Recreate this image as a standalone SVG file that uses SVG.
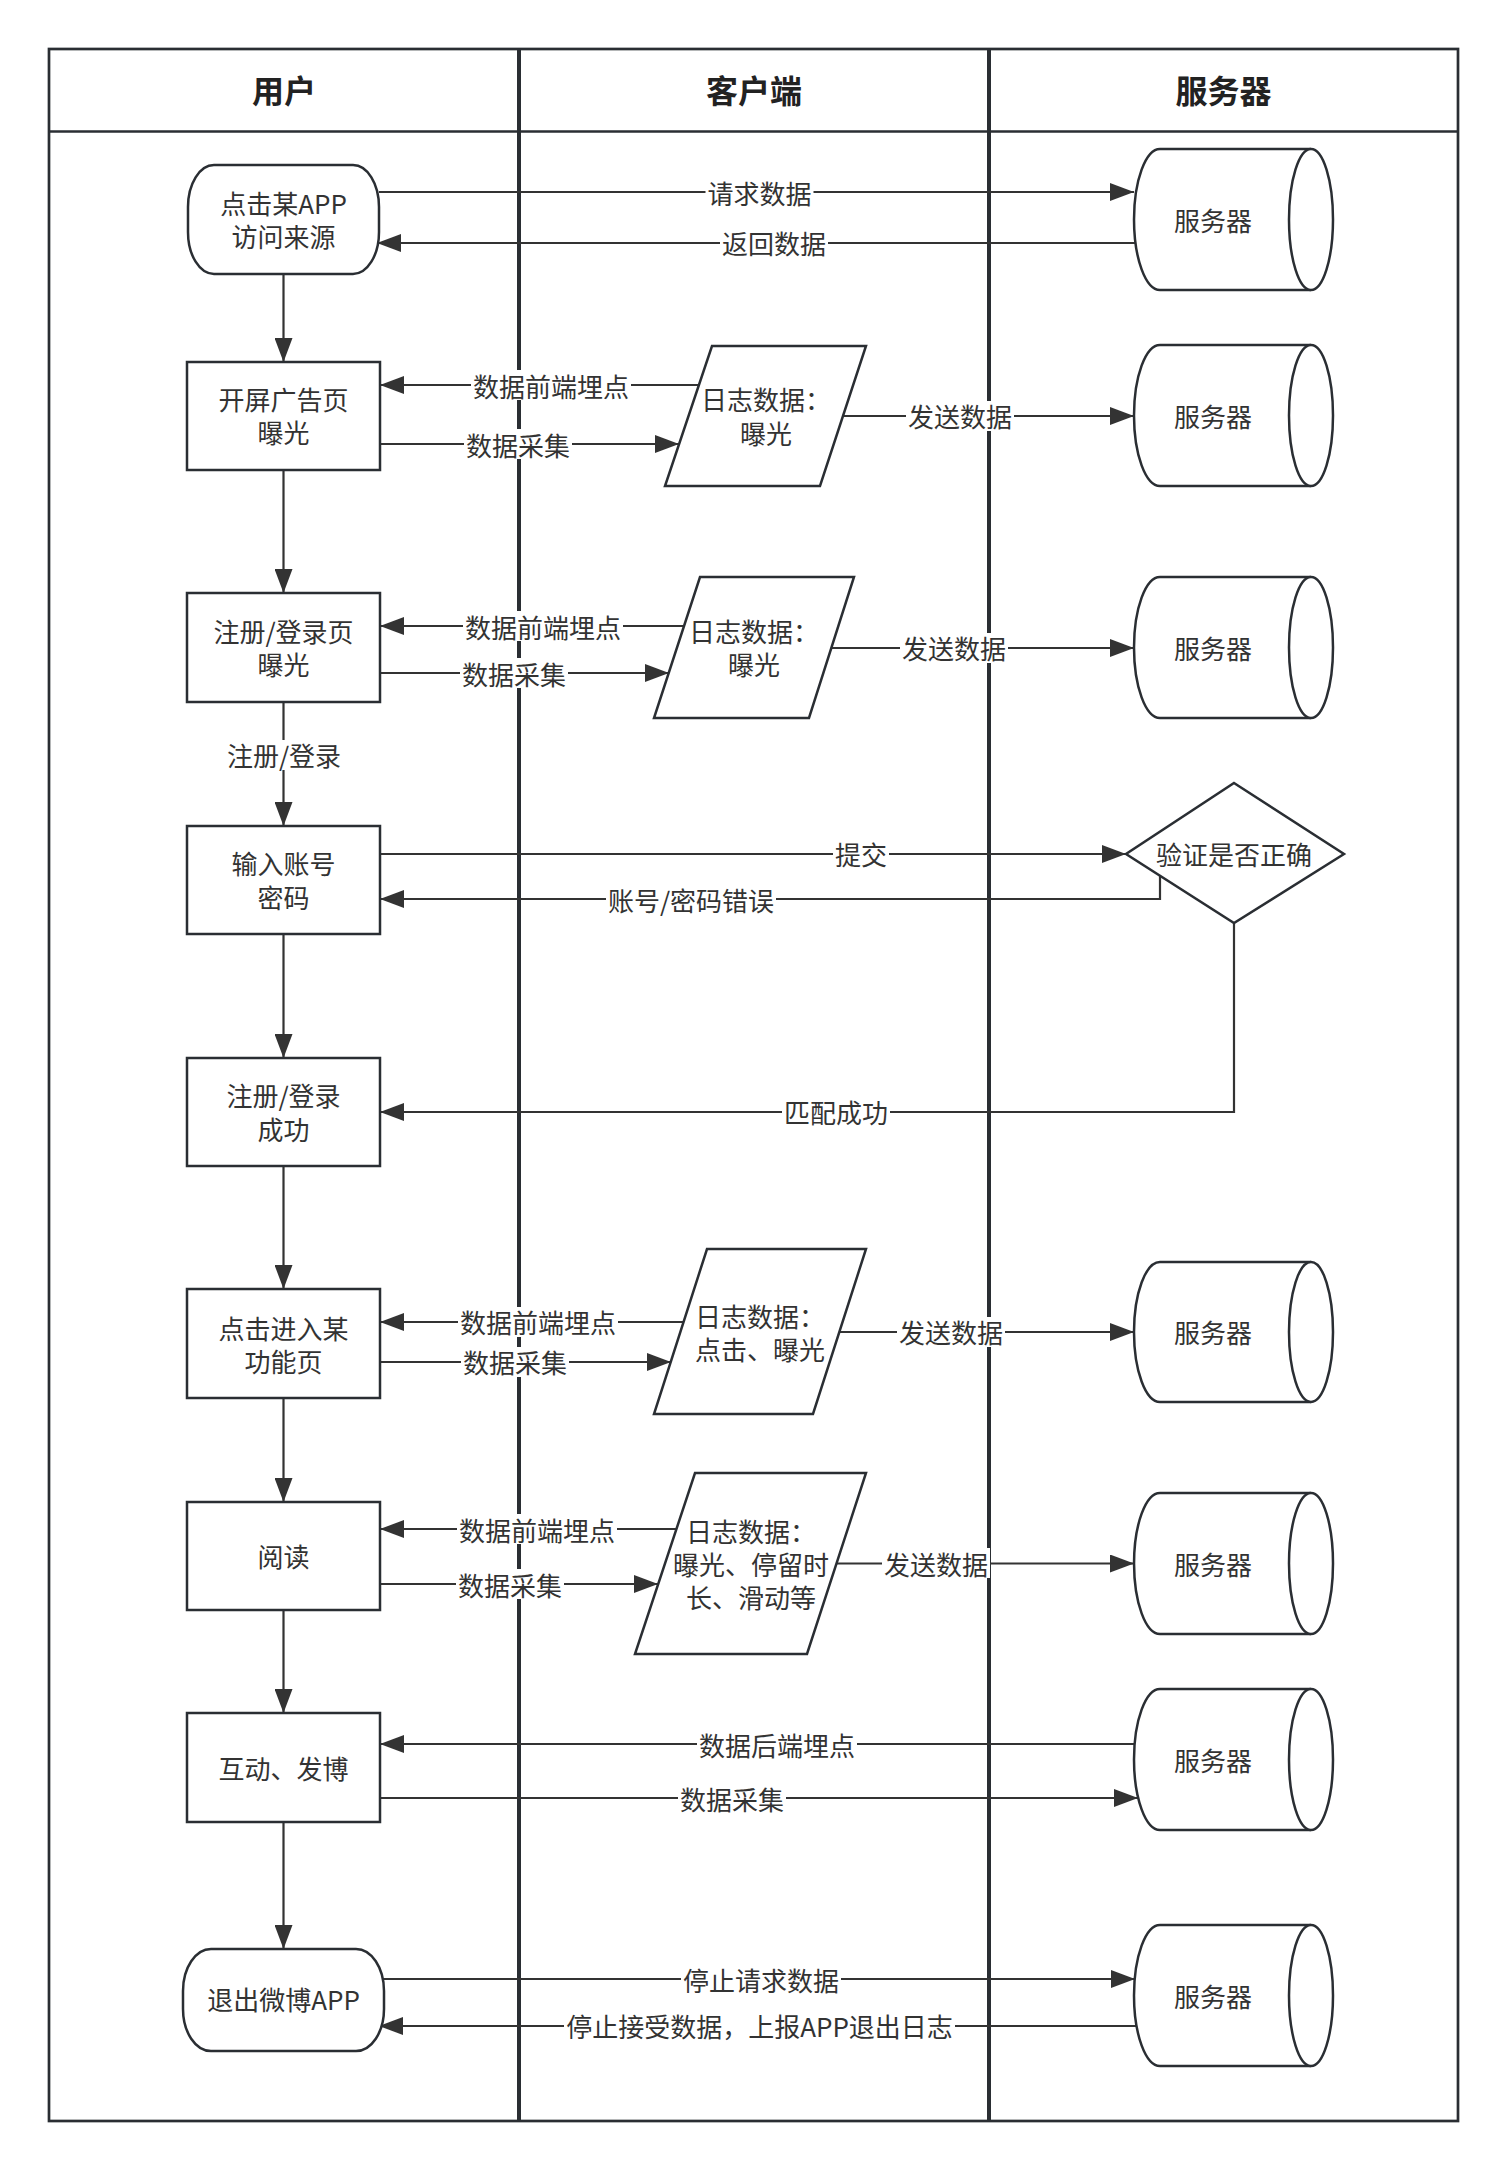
<svg xmlns="http://www.w3.org/2000/svg" width="1508" height="2172" viewBox="0 0 1508 2172">
<defs>
<style>
.n{fill:#fff;stroke:#2a2e33;stroke-width:2.5}
.t{font-family:"Noto Sans CJK SC","Noto Sans",sans-serif;font-size:26px;fill:#333;text-anchor:middle;dominant-baseline:central;transform:translate(0px,-3px)}
.h{font-size:32px;font-weight:700;fill:#222}
.e{fill:none;stroke:#333;stroke-width:2.2}
.a{marker-end:url(#arr)}
.lb{fill:#fff}
.fr{fill:none;stroke:#2a2e33;stroke-width:2.7}
.ln{stroke:#2a2e33;stroke-width:4}
</style>
<marker id="arr" markerUnits="userSpaceOnUse" viewBox="0 0 24 18" markerWidth="24" markerHeight="18" refX="24" refY="9" orient="auto">
<path d="M0,0 L24,9 L0,18 Z" fill="#333"/>
</marker>
</defs>
<rect width="1508" height="2172" fill="#fff"/>

<g id="swimlanes">
<rect class="fr" x="49" y="49" width="1409" height="2072"/>
<line class="fr" x1="49" y1="131.5" x2="1458" y2="131.5"/>
<line class="ln" x1="519" y1="49" x2="519" y2="2121"/>
<line class="ln" x1="989" y1="49" x2="989" y2="2121"/>
<text class="t h" x="284" y="92">用户</text>
<text class="t h" x="754" y="92">客户端</text>
<text class="t h" x="1223.5" y="92">服务器</text>
</g>

<g id="connectors">
<path class="e a" d="M283.5,274 V362"/>
<path class="e a" d="M283.5,470 V593"/>
<path class="e a" d="M283.5,702 V826"/>
<rect class="lb" x="225" y="740" width="118" height="30"/>
<text class="t" x="284" y="757">注册/登录</text>
<path class="e a" d="M283.5,934 V1058"/>
<path class="e a" d="M283.5,1166 V1289"/>
<path class="e a" d="M283.5,1398 V1502"/>
<path class="e a" d="M283.5,1610 V1713"/>
<path class="e a" d="M283.5,1822 V1949"/>

<path class="e a" d="M379,192 H1134"/>
<rect class="lb" x="705.5" y="177" width="108" height="30"/>
<text class="t" x="759.5" y="195">请求数据</text>
<path class="e a" d="M1136,243 H377"/>
<rect class="lb" x="720" y="228" width="108" height="30"/>
<text class="t" x="774" y="245.5">返回数据</text>

<path class="e a" d="M699,385 H380"/>
<rect class="lb" x="471" y="370" width="160" height="30"/>
<text class="t" x="551" y="388">数据前端埋点</text>
<path class="e a" d="M380,444 H679"/>
<rect class="lb" x="464" y="429" width="108" height="30"/>
<text class="t" x="518" y="447">数据采集</text>
<path class="e a" d="M843,416 H1134"/>
<rect class="lb" x="906" y="401" width="108" height="30"/>
<text class="t" x="960" y="418.5">发送数据</text>

<path class="e a" d="M684,626 H380"/>
<rect class="lb" x="463" y="611" width="160" height="30"/>
<text class="t" x="543" y="629">数据前端埋点</text>
<path class="e a" d="M380,673 H669"/>
<rect class="lb" x="460" y="658" width="108" height="30"/>
<text class="t" x="514" y="676">数据采集</text>
<path class="e a" d="M831,648 H1134"/>
<rect class="lb" x="900" y="633" width="108" height="30"/>
<text class="t" x="954" y="650.5">发送数据</text>

<path class="e a" d="M380,854 H1126"/>
<rect class="lb" x="833" y="839" width="56" height="30"/>
<text class="t" x="861" y="856.5">提交</text>
<path class="e a" d="M1160,876 V899 H380"/>
<rect class="lb" x="606" y="884" width="170" height="30"/>
<text class="t" x="691" y="902">账号/密码错误</text>
<path class="e a" d="M1234,923 V1112 H380"/>
<rect class="lb" x="782" y="1097" width="108" height="30"/>
<text class="t" x="836" y="1114.5">匹配成功</text>

<path class="e a" d="M684,1322 H380"/>
<rect class="lb" x="458" y="1307" width="160" height="30"/>
<text class="t" x="538" y="1324.5">数据前端埋点</text>
<path class="e a" d="M380,1362 H671"/>
<rect class="lb" x="461" y="1347" width="108" height="30"/>
<text class="t" x="515" y="1364.5">数据采集</text>
<path class="e a" d="M839,1332 H1134"/>
<rect class="lb" x="897" y="1317" width="108" height="30"/>
<text class="t" x="951" y="1334.5">发送数据</text>

<path class="e a" d="M676,1529 H380"/>
<rect class="lb" x="457" y="1514" width="160" height="30"/>
<text class="t" x="537" y="1532">数据前端埋点</text>
<path class="e a" d="M380,1584 H658"/>
<rect class="lb" x="456" y="1569" width="108" height="30"/>
<text class="t" x="510" y="1587">数据采集</text>
<path class="e a" d="M836,1563.5 H1134"/>
<rect class="lb" x="882" y="1548" width="108" height="30"/>
<text class="t" x="936" y="1566">发送数据</text>

<path class="e a" d="M1135,1744 H380"/>
<rect class="lb" x="697" y="1729" width="160" height="30"/>
<text class="t" x="777" y="1747">数据后端埋点</text>
<path class="e a" d="M380,1798 H1138"/>
<rect class="lb" x="678" y="1783" width="108" height="30"/>
<text class="t" x="732" y="1801">数据采集</text>

<path class="e a" d="M382,1979 H1135"/>
<rect class="lb" x="681" y="1964" width="160" height="30"/>
<text class="t" x="761" y="1982">停止请求数据</text>
<path class="e a" d="M1137,2026 H379"/>
<rect class="lb" x="564" y="2011" width="391" height="30"/>
<text class="t" x="759.5" y="2028.5">停止接受数据，上报APP退出日志</text>
</g>

<g id="start">
<rect class="n" x="188" y="165" width="191" height="109" rx="26" ry="42"/>
<text class="t" x="283.5" y="205">点击某APP</text>
<text class="t" x="283.5" y="238">访问来源</text>
</g>
<g id="box-splash">
<rect class="n" x="187" y="362" width="193" height="108"/>
<text class="t" x="283.5" y="401">开屏广告页</text>
<text class="t" x="283.5" y="434">曝光</text>
</g>
<g id="box-login-page">
<rect class="n" x="187" y="593" width="193" height="109"/>
<text class="t" x="283.5" y="633">注册/登录页</text>
<text class="t" x="283.5" y="666">曝光</text>
</g>
<g id="box-input">
<rect class="n" x="187" y="826" width="193" height="108"/>
<text class="t" x="283.5" y="865.5">输入账号</text>
<text class="t" x="283.5" y="899">密码</text>
</g>
<g id="box-success">
<rect class="n" x="187" y="1058" width="193" height="108"/>
<text class="t" x="283.5" y="1097">注册/登录</text>
<text class="t" x="283.5" y="1131">成功</text>
</g>
<g id="box-func">
<rect class="n" x="187" y="1289" width="193" height="109"/>
<text class="t" x="283.5" y="1330">点击进入某</text>
<text class="t" x="283.5" y="1363">功能页</text>
</g>
<g id="box-read">
<rect class="n" x="187" y="1502" width="193" height="108"/>
<text class="t" x="283.5" y="1558">阅读</text>
</g>
<g id="box-interact">
<rect class="n" x="187" y="1713" width="193" height="109"/>
<text class="t" x="283.5" y="1770">互动、发博</text>
</g>
<g id="exit">
<rect class="n" x="183" y="1949" width="201" height="102" rx="28" ry="42"/>
<text class="t" x="283.5" y="2001">退出微博APP</text>
</g>

<g id="log1">
<polygon class="n" points="712,346 866,346 820,486 665,486"/>
<text class="t" x="766" y="401.5">日志数据：</text>
<text class="t" x="766" y="435">曝光</text>
</g>
<g id="log2">
<polygon class="n" points="700,577 854,577 809,718 654,718"/>
<text class="t" x="754" y="633">日志数据：</text>
<text class="t" x="754" y="666.5">曝光</text>
</g>
<g id="log3">
<polygon class="n" points="707,1249 866,1249 813,1414 654,1414"/>
<text class="t" x="760" y="1318">日志数据：</text>
<text class="t" x="760" y="1351.5">点击、曝光</text>
</g>
<g id="log4">
<polygon class="n" points="695,1473 866,1473 807,1654 635,1654"/>
<text class="t" x="751" y="1533">日志数据：</text>
<text class="t" x="751" y="1566">曝光、停留时</text>
<text class="t" x="751" y="1599">长、滑动等</text>
</g>

<g id="verify">
<polygon class="n" points="1234,783 1344,854 1234,923 1126,854"/>
<text class="t" x="1234" y="856.5">验证是否正确</text>
</g>

<g id="server1">
<path class="n" d="M1311,149 H1160 A26,70.5 0 0 0 1160,290 H1311"/>
<ellipse class="n" cx="1311" cy="219.5" rx="22" ry="70.5"/>
<text class="t" x="1213" y="222">服务器</text>
</g>
<g id="server2">
<path class="n" d="M1311,345 H1160 A26,70.5 0 0 0 1160,486 H1311"/>
<ellipse class="n" cx="1311" cy="415.5" rx="22" ry="70.5"/>
<text class="t" x="1213" y="418">服务器</text>
</g>
<g id="server3">
<path class="n" d="M1311,577 H1160 A26,70.5 0 0 0 1160,718 H1311"/>
<ellipse class="n" cx="1311" cy="647.5" rx="22" ry="70.5"/>
<text class="t" x="1213" y="650">服务器</text>
</g>
<g id="server4">
<path class="n" d="M1311,1262 H1160 A26,70 0 0 0 1160,1402 H1311"/>
<ellipse class="n" cx="1311" cy="1332" rx="22" ry="70"/>
<text class="t" x="1213" y="1334.5">服务器</text>
</g>
<g id="server5">
<path class="n" d="M1311,1493 H1160 A26,70.5 0 0 0 1160,1634 H1311"/>
<ellipse class="n" cx="1311" cy="1563.5" rx="22" ry="70.5"/>
<text class="t" x="1213" y="1566">服务器</text>
</g>
<g id="server6">
<path class="n" d="M1311,1689 H1160 A26,70.5 0 0 0 1160,1830 H1311"/>
<ellipse class="n" cx="1311" cy="1759.5" rx="22" ry="70.5"/>
<text class="t" x="1213" y="1762">服务器</text>
</g>
<g id="server7">
<path class="n" d="M1311,1925 H1160 A26,70.5 0 0 0 1160,2066 H1311"/>
<ellipse class="n" cx="1311" cy="1995.5" rx="22" ry="70.5"/>
<text class="t" x="1213" y="1998">服务器</text>
</g>
</svg>
